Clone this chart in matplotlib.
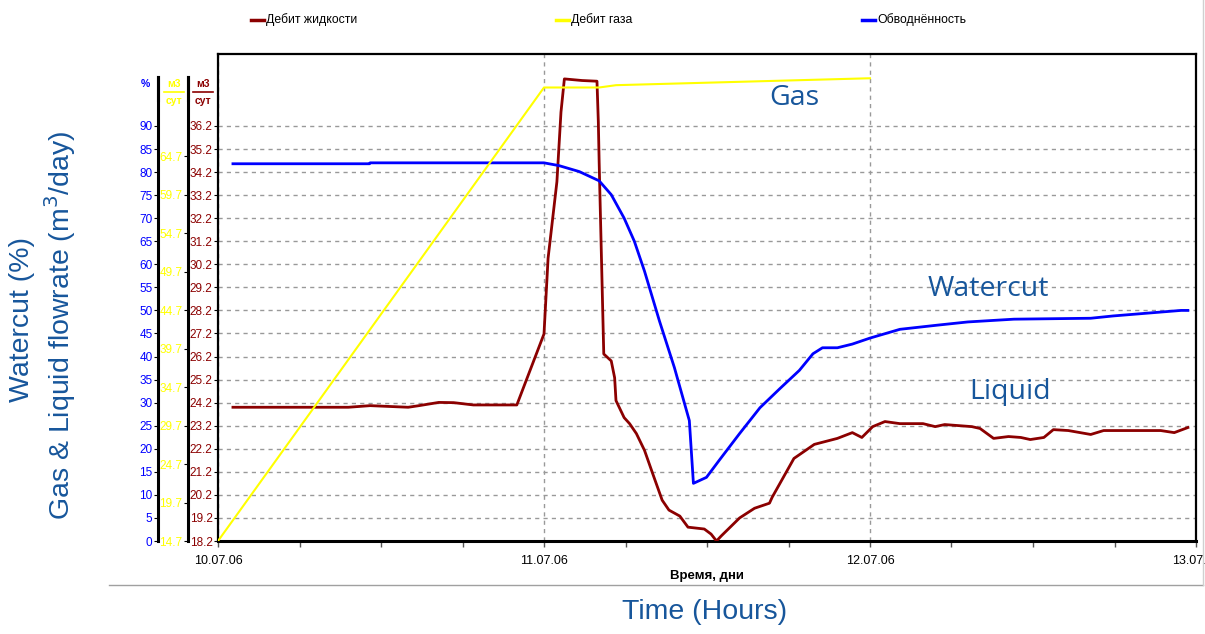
import matplotlib
matplotlib.use("Agg")
import matplotlib.pyplot as plt
from matplotlib.lines import Line2D
from matplotlib.ticker import MultipleLocator, FixedLocator

# hours since 10.07.06 00:00
wc_hours = [1.1, 11.15, 11.2, 24.0, 25.1, 26.6, 28.06, 28.95, 29.9, 30.65, 31.4, 32.5,
            33.6, 34.7, 35.0, 35.96, 36.9, 38.4, 39.9, 41.35, 42.8, 43.8, 44.5, 45.6,
            46.7, 48.0, 50.2, 52.95, 55.2, 58.6, 64.25, 65.9, 70.9, 71.4]
watercut = [81.8, 81.8, 82.0, 82.0, 81.4, 80.1, 78.1, 75.1, 70.0, 65.0, 58.5, 47.7,
            37.6, 26.1, 12.5, 13.8, 17.5, 23.3, 28.9, 33.0, 37.0, 40.6, 41.9, 41.9,
            42.7, 44.0, 45.9, 46.8, 47.5, 48.1, 48.3, 48.8, 50.0, 50.0]

liq_hours = [1.1, 9.6, 11.2, 14.0, 14.8, 16.25, 17.35, 18.8, 22.0, 24.0, 24.3, 24.95,
             25.25, 25.5, 26.8, 27.9, 28.0, 28.06, 28.4, 28.95, 29.2, 29.3, 29.9, 30.3,
             30.8, 31.4, 32.1, 32.7, 33.2, 34.0, 34.6, 35.8, 36.3, 36.7, 37.05, 38.4,
             39.5, 40.6, 40.8, 42.4, 43.9, 45.6, 46.7, 47.4, 48.2, 49.1, 50.2, 51.9,
             52.8, 53.5, 55.5, 56.1, 57.1, 58.2, 59.1, 59.8, 60.8, 61.5, 62.6, 64.25,
             65.2, 69.4, 70.4, 71.4]
liquid = [24.0, 24.0, 24.07, 24.0, 24.07, 24.21, 24.2, 24.1, 24.1, 27.18, 30.46, 33.78,
          36.8, 38.24, 38.17, 38.14, 36.37, 34.64, 26.31, 26.01, 25.28, 24.29, 23.55, 23.29,
          22.86, 22.13, 20.96, 19.97, 19.54, 19.28, 18.8, 18.72, 18.5, 18.2, 18.42, 19.2,
          19.62, 19.84, 20.1, 21.78, 22.39, 22.65, 22.9, 22.69, 23.16, 23.38, 23.29, 23.29,
          23.16, 23.25, 23.16, 23.08, 22.65, 22.73, 22.69, 22.6, 22.69, 23.03, 22.99, 22.82,
          22.99, 22.99, 22.9, 23.12]

gas_hours = [0.0, 24.0, 28.06, 29.3, 48.0]
gas = [14.7, 73.6, 73.6, 73.9, 74.8]

x_labels = ["10.07.06", "11.07.06", "12.07.06", "13.07.06"]
legend_names = ["Дебит жидкости", "Дебит газа", "Обводнённость"]

C_LIQ, C_GAS, C_WC = "#8b0000", "#ffff00", "#0000ff"
C_TXT = "#17569b"
W, H = 1205, 634


def fx(px):
    return px / W


def fy(py):
    return 1 - py / H


plt.rcParams["font.family"] = ["Liberation Sans", "DejaVu Sans"]
fig = plt.figure(figsize=(W / 100, H / 100), dpi=100)
fig.patch.set_facecolor("white")

rect = [fx(218), fy(541), fx(1196) - fx(218), fy(54) - fy(541)]
ax = fig.add_axes(rect)
ax_pct = ax.twinx()
ax_gas = ax.twinx()

# vertical scale: 487 px of plot height
ax_pct.set_ylim(0, 105.6)
ax.set_ylim(18.2, 18.2 + 105.6 / 5)
ax_gas.set_ylim(14.7, 14.7 + 63.25)
ax.set_xlim(0, 72)

ax.plot(liq_hours, liquid, color=C_LIQ, lw=2.0, zorder=3)
ax_gas.plot(gas_hours, gas, color=C_GAS, lw=1.5)
ax_pct.plot(wc_hours, watercut, color=C_WC, lw=2.0)

# x axis
ax.xaxis.set_major_locator(FixedLocator([0, 24, 48, 72]))
ax.set_xticklabels(x_labels)
ax.xaxis.set_minor_locator(MultipleLocator(6))
ax.tick_params(axis="x", which="both", direction="out", length=4, width=1,
               labelsize=9, pad=6, color="#555555")
ax.set_xlabel("Время, дни", fontsize=9.5, fontweight="bold", labelpad=2)
ax.grid(axis="x", which="major", color="#999999", ls=(0, (3, 3)), lw=1)

# liquid axis (plot frame)
ax.yaxis.set_major_locator(FixedLocator([18.2 + i for i in range(19)]))
ax.set_yticklabels([f"{18.2 + i:.1f}" for i in range(19)])
ax.tick_params(axis="y", direction="out", length=3, pad=1, labelsize=8.5,
               labelcolor=C_LIQ)
ax.grid(axis="y", color="#999999", ls=(0, (3, 3)), lw=1)
for s in ax.spines.values():
    s.set_linewidth(1.6)
ax.spines["bottom"].set_linewidth(2.2)

# percent and gas axes on the left with offsets
for a, off, top, ticks, col in [
    (ax_pct, 43.2, 100.6, [5 * i for i in range(19)], C_WC),
    (ax_gas, 21.6, 74.96, [14.7 + 5 * i for i in range(11)], C_GAS),
]:
    a.yaxis.tick_left()
    a.spines["left"].set_visible(True)
    a.spines["left"].set_position(("outward", off))
    a.spines["left"].set_linewidth(2.2)
    a.spines["left"].set_bounds(a.get_ylim()[0], top)
    for k in ("right", "top", "bottom"):
        a.spines[k].set_visible(False)
    a.yaxis.set_major_locator(FixedLocator(ticks))
    a.tick_params(axis="y", direction="out", length=3, pad=1, labelsize=8.5,
                  labelcolor=col)
ax_pct.set_yticklabels([str(5 * i) for i in range(19)])
ax_gas.set_yticklabels([f"{14.7 + 5 * i:.1f}" for i in range(11)])

# unit headers over the y axes
fig.text(fx(145), fy(84), "%", color=C_WC, fontsize=7.5, fontweight="bold",
         ha="center", va="center")
for cx, col in [(174, C_GAS), (203, C_LIQ)]:
    fig.text(fx(cx), fy(84), "м3", color=col, fontsize=7.5, fontweight="bold",
             ha="center", va="center")
    fig.text(fx(cx), fy(101), "сут", color=col, fontsize=7.5, fontweight="bold",
             ha="center", va="center")
    fig.add_artist(Line2D([fx(cx - 10), fx(cx + 10)], [fy(92), fy(92)],
                          color=col, lw=1.2, transform=fig.transFigure))
# extend spine line next to headers
for sx in (158, 188):
    fig.add_artist(Line2D([fx(sx), fx(sx)], [fy(77), fy(100)], color="black",
                          lw=2.2, transform=fig.transFigure))

# legend row
for x0, name, col in zip([251, 556, 862], legend_names, [C_LIQ, C_GAS, C_WC]):
    fig.add_artist(Line2D([fx(x0), fx(x0 + 13)], [fy(20), fy(20)], color=col,
                          lw=2.5, transform=fig.transFigure))
    fig.text(fx(x0 + 15), fy(20), name, fontsize=8.8, ha="left", va="center")

# outer frame
fig.add_artist(Line2D([fx(109), fx(1203)], [fy(585), fy(585)], color="#a0a0a0",
                      lw=1, transform=fig.transFigure))
fig.add_artist(Line2D([fx(1203), fx(1203)], [fy(0), fy(585)], color="#d0d0d0",
                      lw=1, transform=fig.transFigure))

# presentation annotations
ann_font = ["Open Sans", "DejaVu Sans"]
fig.text(fx(794), fy(98), "Gas", color=C_TXT, fontsize=20.5, family=ann_font,
         ha="center", va="center")
fig.text(fx(988), fy(289), "Watercut", color=C_TXT, fontsize=20.5, family=ann_font,
         ha="center", va="center")
fig.text(fx(1010), fy(392), "Liquid", color=C_TXT, fontsize=20.5, family=ann_font,
         ha="center", va="center")
fig.text(fx(22), fy(320), "Watercut (%)", color=C_TXT, fontsize=20.5,
         rotation=90, ha="center", va="center")
fig.text(fx(60), fy(325), "Gas & Liquid flowrate (m$^3$/day)", color=C_TXT,
         fontsize=20.5, rotation=90, ha="center", va="center")
fig.text(fx(705), fy(612), "Time (Hours)", color=C_TXT, fontsize=20.5,
         ha="center", va="center")

fig.savefig("out.png", dpi=100)
